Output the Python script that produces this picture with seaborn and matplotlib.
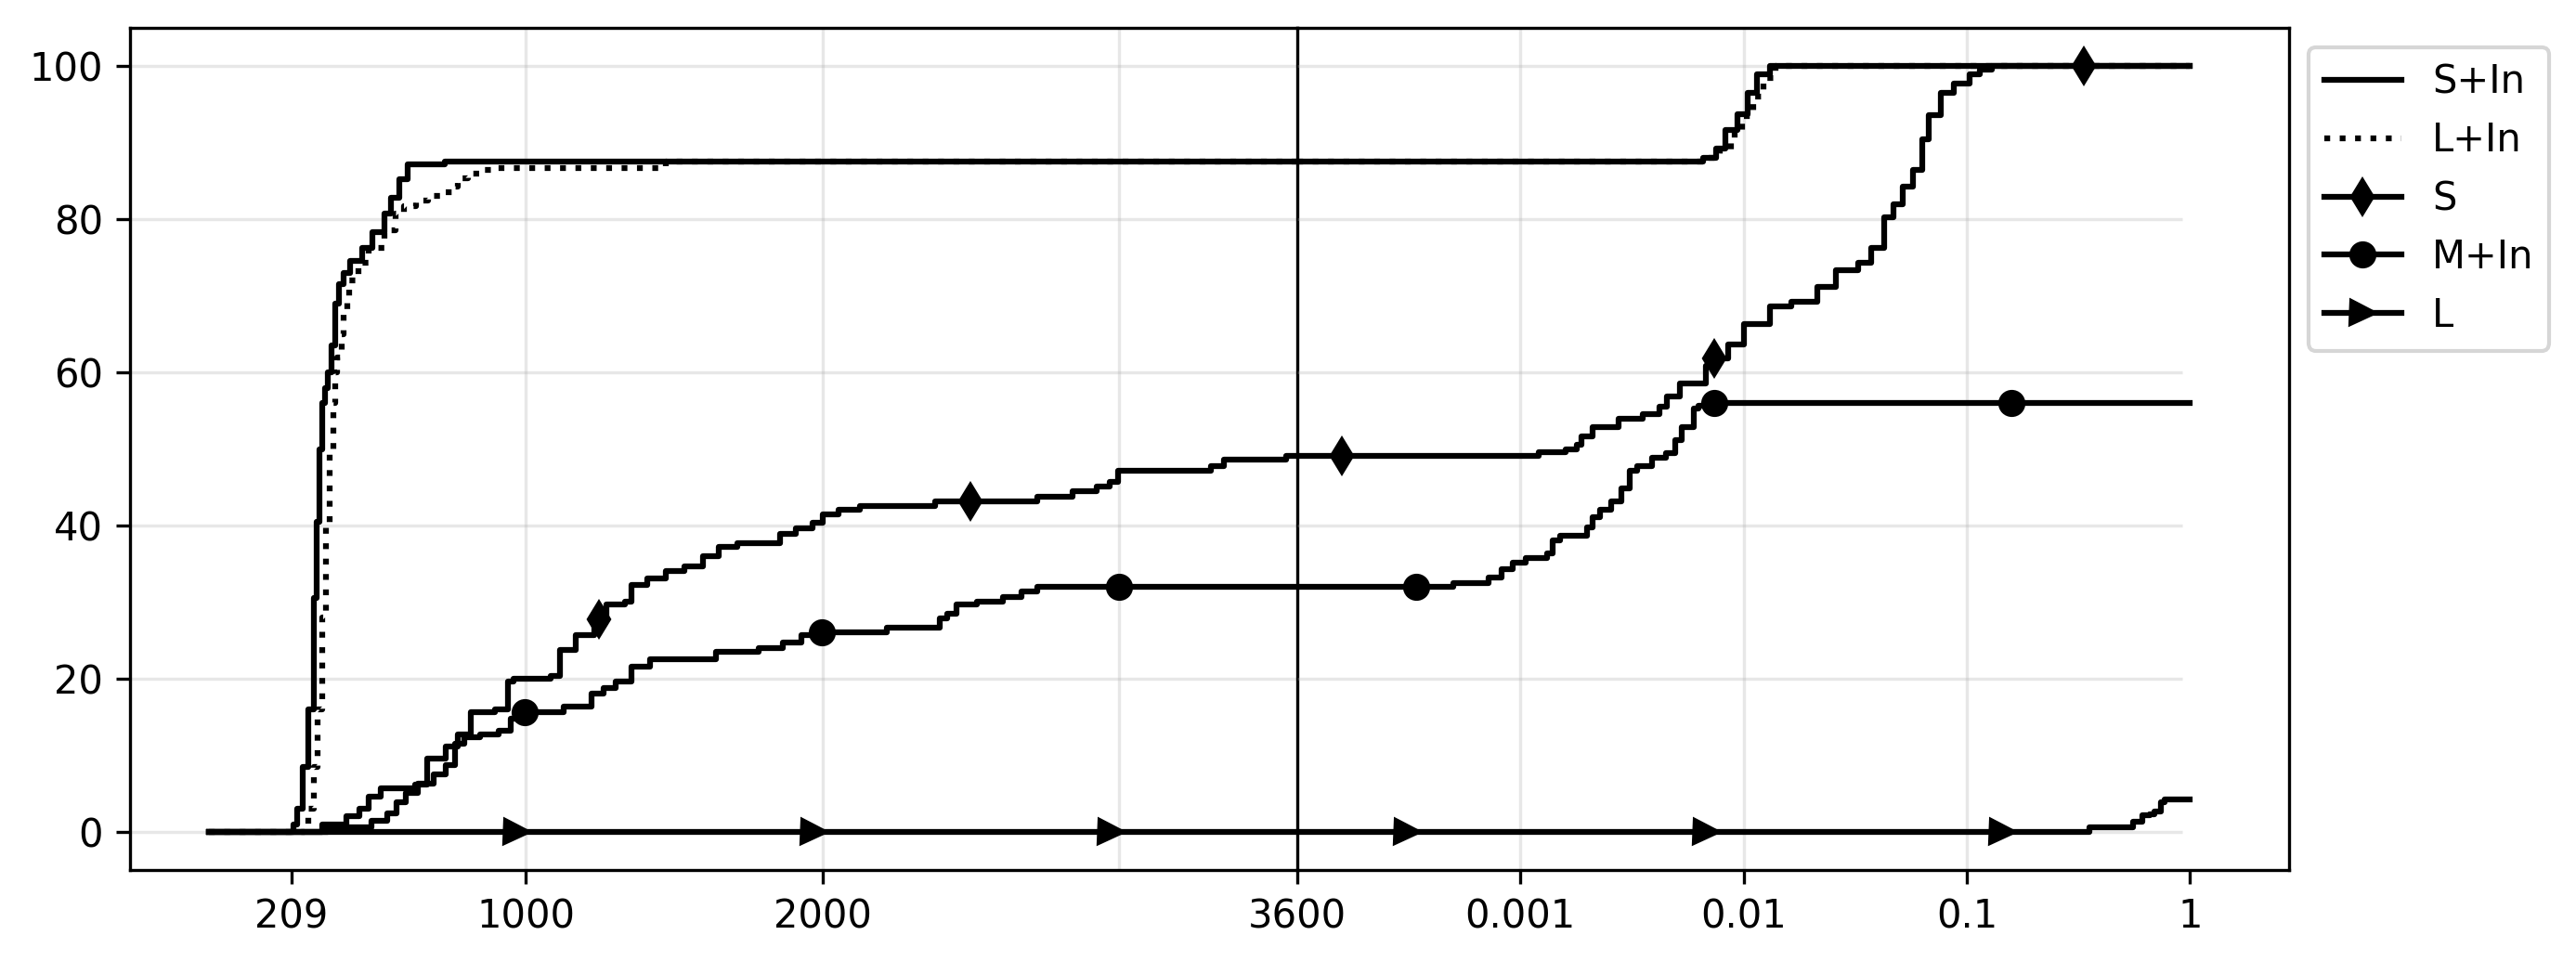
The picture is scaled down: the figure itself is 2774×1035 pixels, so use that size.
import numpy as np
import matplotlib
matplotlib.use('Agg')
import matplotlib.pyplot as plt
import seaborn as sns
from matplotlib.lines import Line2D
from matplotlib.ticker import NullLocator

# ---- data: % of instances, step curves ----
# left part: solving time in seconds (0 .. 3600)
sin_t = [-70, 215, 230, 248, 266, 285, 294, 303, 312, 322, 333, 343, 357, 370, 385,
         407, 448, 482, 523, 545, 573, 601, 726, 3600]
sin_t_pct = [0, 1, 3, 8.5, 16, 30.5, 40.5, 50, 56, 58, 60, 63.5, 69, 71.5, 73,
             74.5, 76.2, 78.3, 80.7, 82.8, 85.2, 87.2, 87.5, 87.5]

lin_t = [-70, 255, 266, 285, 298, 312, 325, 338, 350, 357, 363, 378, 385, 398, 405,
         434, 469, 524, 560, 588, 629, 671, 714, 755, 770, 804, 851, 900, 1470, 3600]
lin_t_pct = [0, 1, 3, 8.5, 16, 28, 40, 50, 56, 60, 62, 65, 67.5, 70, 72,
             74.3, 76.2, 78.6, 80.7, 81.7, 82.5, 83.1, 83.5, 84.3, 85.3, 86, 86.4, 86.7, 87.5, 87.5]

s_t = [-70, 312, 395, 437, 469, 511, 625, 668, 730, 770, 813, 896, 938, 958, 1083,
       1114, 1167, 1230, 1271, 1334, 1355, 1408, 1471, 1534, 1596, 1649, 1713, 1856,
       1911, 1966, 2001, 2053, 2126, 2379, 2725, 2842, 2923, 2967, 2995, 3309, 3354,
       3561, 3600]
s_t_pct = [0, 1, 2, 3, 4.6, 5.7, 6.1, 9.5, 11.1, 12.7, 15.6, 16, 19.6, 20, 20.4,
           23.7, 25.7, 27.7, 29.7, 30.1, 32.2, 33.1, 34, 34.6, 36, 37.2, 37.7, 38.9,
           39.6, 40.4, 41.4, 42.1, 42.6, 43.1, 43.7, 44.5, 45.1, 45.7, 47.1, 47.8, 48.6,
           49.1, 49.1]

min_t = [-70, 332, 479, 531, 563, 594, 636, 688, 730, 761, 792, 844, 907, 948, 980,
         1126, 1220, 1261, 1302, 1355, 1418, 1641, 1785, 1866, 1928, 1980, 2216, 2396,
         2420, 2451, 2519, 2608, 2671, 2725, 3600]
min_t_pct = [0, 0.6, 1.4, 2.4, 3.9, 5.1, 6.3, 7.5, 8.7, 11.5, 12.4, 12.7, 13.2, 14.8, 15.6,
             16.4, 18, 18.8, 19.6, 21.6, 22.5, 23.5, 24, 24.7, 25.7, 26.1, 26.7, 27.9,
             28.5, 29.7, 30, 30.6, 31.4, 32, 32]

l_t = [-70, 3600]
l_t_pct = [0, 0]

# right part: final relative gap (1e-4 .. 1)
sin_g = [1e-4, 0.0066, 0.0075, 0.0083, 0.0094, 0.0104, 0.0115, 0.0131, 1]
sin_g_pct = [87.5, 88, 89.2, 91.6, 93.7, 96.5, 98.9, 100, 100]

lin_g = [1e-4, 0.0069, 0.0078, 0.0088, 0.0098, 0.011, 0.0123, 0.0139, 1]
lin_g_pct = [87.5, 88, 89, 91, 93.5, 96, 98.5, 100, 100]

s_g = [1e-4, 0.00121, 0.0016, 0.00178, 0.00188, 0.0021, 0.00275, 0.00354, 0.00418,
       0.00452, 0.00519, 0.0068, 0.0073, 0.0085, 0.0100, 0.0131, 0.0163, 0.0213, 0.0258,
       0.0326, 0.0373, 0.0425, 0.047, 0.0518, 0.0573, 0.0633, 0.0674, 0.0765, 0.0876,
       0.103, 0.114, 0.130, 1]
s_g_pct = [49.1, 49.6, 50.0, 50.5, 51.6, 52.8, 54.0, 54.6, 55.5,
           56.9, 58.6, 60.8, 61.8, 63.7, 66.3, 68.6, 69.2, 71.2, 73.4,
           74.3, 76.2, 80.3, 81.9, 84.3, 86.4, 90.4, 93.6, 96.5, 97.7,
           98.9, 99.5, 100, 100]

min_g = [1e-4, 5.0e-4, 7.2e-4, 8.2e-4, 9.2e-4, 1.06e-3, 1.31e-3, 1.39e-3, 1.51e-3,
         1.98e-3, 2.1e-3, 2.28e-3, 2.55e-3, 2.83e-3, 3.1e-3, 3.34e-3, 3.9e-3, 4.5e-3,
         4.92e-3, 5.3e-3, 6.0e-3, 6.3e-3, 7.2e-3, 1]
min_g_pct = [32, 32.5, 33.2, 34.3, 35.1, 35.7, 36.3, 38.0, 38.6,
             39.7, 41.1, 42.0, 43.1, 44.8, 47.1, 47.7, 48.8, 49.4,
             51.1, 52.8, 55.3, 55.7, 56, 56]

l_g = [1e-4, 0.355, 0.556, 0.61, 0.66, 0.69, 0.74, 0.77, 1]
l_g_pct = [0, 0.6, 1.3, 2.1, 2.3, 2.7, 3.8, 4.2, 4.2]

# marker positions along the curves
s_mark_t = [1246, 2497]
s_mark_g = [1.58e-4, 7.4e-3, 0.336]
min_mark_t = [995, 1997, 3000]
min_mark_g = [3.4e-4, 7.4e-3, 0.158]
l_mark_t = [967, 1969, 2970]
l_mark_g = [3.1e-4, 6.8e-3, 0.144]

time_ticks = [209, 1000, 2000, 3600]
time_grid = [1000, 2000, 3000]
gap_ticks = [0.001, 0.01, 0.1, 1]
gap_labels = ['0.001', '0.01', '0.1', '1']
y_ticks = [0, 20, 40, 60, 80, 100]


def step_at(xs, ys, pts):
    idx = np.searchsorted(np.asarray(xs), np.asarray(pts), side='right') - 1
    return np.asarray(ys)[idx]


def draw(ax, x, y, ls='-'):
    sns.lineplot(x=x, y=y, ax=ax, color='black', linewidth=1.5, linestyle=ls,
                 drawstyle='steps-post', estimator=None, sort=False, zorder=3)


def marks(ax, xs, ys, pts, marker):
    ax.plot(pts, step_at(xs, ys, pts), ls='none', marker=marker, color='black',
            markersize=6, zorder=4)


fig = plt.figure(figsize=(2774 / 300, 1035 / 300), dpi=300)
bottom, height = 1 - 937 / 1035, 907 / 1035
ax1 = fig.add_axes([140 / 2774, bottom, (1397 - 140) / 2774, height])
ax2 = fig.add_axes([1397 / 2774, bottom, (2465 - 1397) / 2774, height], sharey=ax1)
ax2.patch.set_alpha(0)

grid_kw = dict(color='#b0b0b0', alpha=0.3, linewidth=0.8, zorder=0)

# left: time
for v in time_grid:
    ax1.axvline(v, **grid_kw)
for v in y_ticks:
    ax1.axhline(v, **grid_kw)
draw(ax1, sin_t, sin_t_pct)
draw(ax1, lin_t, lin_t_pct, ':')
draw(ax1, s_t, s_t_pct)
draw(ax1, min_t, min_t_pct)
draw(ax1, l_t, l_t_pct)
marks(ax1, s_t, s_t_pct, s_mark_t, 'd')
marks(ax1, min_t, min_t_pct, min_mark_t, 'o')
marks(ax1, l_t, l_t_pct, l_mark_t, '>')
ax1.set_xlim(-335, 3600)
ax1.set_ylim(-5, 105)
ax1.set_xticks(time_ticks)
ax1.set_xticklabels([str(v) for v in time_ticks])
ax1.set_yticks(y_ticks)
ax1.set_xlabel('')
ax1.set_ylabel('')

# right: gap, log scale
ax2.set_xscale('log')
for v in gap_ticks[:-1]:
    ax2.axvline(v, **grid_kw)
ax2.hlines(y_ticks, 1e-4, 0.92, **grid_kw)
draw(ax2, sin_g, sin_g_pct)
draw(ax2, lin_g, lin_g_pct, ':')
draw(ax2, s_g, s_g_pct)
draw(ax2, min_g, min_g_pct)
draw(ax2, l_g, l_g_pct)
marks(ax2, s_g, s_g_pct, s_mark_g, 'd')
marks(ax2, min_g, min_g_pct, min_mark_g, 'o')
marks(ax2, l_g, l_g_pct, l_mark_g, '>')
ax2.set_xlim(1e-4, 10 ** 0.444)
ax2.set_xticks(gap_ticks)
ax2.set_xticklabels(gap_labels)
ax2.xaxis.set_minor_locator(NullLocator())
ax2.spines['left'].set_visible(False)
ax2.tick_params(axis='y', left=False, labelleft=False)
ax2.set_xlabel('')
ax2.set_ylabel('')

handles = [
    Line2D([], [], color='black', lw=1.5, ls='-'),
    Line2D([], [], color='black', lw=1.5, ls=':'),
    Line2D([], [], color='black', lw=1.5, marker='d', markersize=6),
    Line2D([], [], color='black', lw=1.5, marker='o', markersize=6),
    Line2D([], [], color='black', lw=1.5, marker='>', markersize=6),
]
ax2.legend(handles, ['S+In', 'L+In', 'S', 'M+In', 'L'],
           loc='upper left', bbox_to_anchor=(1, 1))

fig.savefig('out.png', dpi=300)
plt.close(fig)
